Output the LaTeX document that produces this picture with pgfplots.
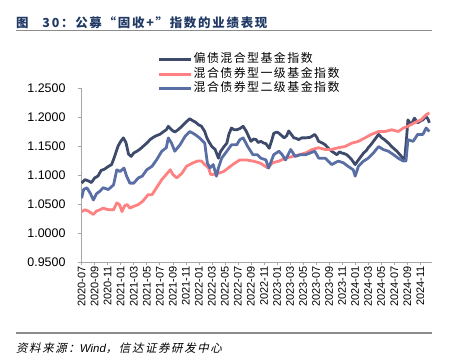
\documentclass[border=0pt]{standalone}
\usepackage{fontspec}
\usepackage{pgfplots}
\pgfplotsset{compat=1.18}
\setmainfont{Liberation Sans}
\newfontfamily\cjk{Noto Sans CJK SC}
\newfontfamily\cjktitle{Noto Sans CJK SC}[LetterSpace=14]
\newfontfamily\cjkleg{Noto Sans CJK SC}[LetterSpace=12]
\newfontfamily\cjkit{Noto Sans CJK SC}[FakeSlant=0.22, LetterSpace=14]
\definecolor{sdark}{HTML}{3D4A6B}
\definecolor{sred}{HTML}{FF8080}
\definecolor{sblue}{HTML}{5A6EA6}
\definecolor{ttl}{HTML}{1F3864}
\definecolor{rulegray}{HTML}{8C8C8C}
\begin{document}
\begin{tikzpicture}
\useasboundingbox (0bp,0bp) rectangle (452bp,-362bp);
\node[anchor=base west, inner sep=0pt, text=ttl] at (16bp,-27bp) {\cjktitle\bfseries\fontsize{12.5}{14}\selectfont 图\ \ \ 30：公募“固收+”指数的业绩表现};
\draw[rulegray, line width=1.6bp] (16bp,-30.5bp) -- (432bp,-30.5bp);
\draw[rulegray, line width=1.6bp] (16bp,-333bp) -- (432bp,-333bp);
\node[anchor=base west, inner sep=0pt] at (16bp,-352bp) {\fontsize{11.5}{13}\selectfont{\cjkit 资料来源：}{\itshape Wind}{\cjkit ，信达证券研发中心}};
\begin{axis}[
  at={(81bp,-262bp)}, anchor=south west,
  scale only axis, width=351bp, height=174bp,
  xmin=-0.1, xmax=53.8, ymin=0.95, ymax=1.25,
  axis lines=left, axis line style={draw=gray!70, -},
  tick style={draw=gray!70, line width=0.6bp},
  tick align=outside, major tick length=3bp,
  xtick={0,2,...,52},
  xticklabels={2020-07,2020-09,2020-11,2021-01,2021-03,2021-05,2021-07,2021-09,2021-11,2022-01,2022-03,2022-05,2022-07,2022-09,2022-11,2023-01,2023-03,2023-05,2023-07,2023-09,2023-11,2024-01,2024-03,2024-05,2024-07,2024-09,2024-11},
  xticklabel style={rotate=90, anchor=east, font=\fontsize{11}{11}\selectfont, inner sep=1bp},
  ytick={0.95,1.00,...,1.26},
  yticklabel style={xshift=-9bp, font=\fontsize{12.5}{13}\selectfont, /pgf/number format/.cd, fixed, fixed zerofill, precision=4, assume math mode=true},
  legend style={draw=none, fill=none, at={(0.219,1.205)}, anchor=north west, inner sep=0pt, row sep=0pt,
    font=\cjkleg\fontsize{12}{13}\selectfont, cells={anchor=west},
    nodes={inner sep=1bp, text height=9bp, text depth=3.5bp}},
  legend image code/.code={\draw[#1, line width=2.6pt] (0bp,0bp) -- (32bp,0bp);},
  every axis plot/.append style={line width=2.8pt, line join=round},
]
\addplot[sdark, no marks] coordinates {
(0,1.086)(0.5,1.092)(1.0,1.090)(1.5,1.087)(2.0,1.095)(2.5,1.098)(3.0,1.108)(3.5,1.110)(4.0,1.114)(4.6,1.118)
(5.0,1.130)(5.3,1.140)(5.6,1.150)(6.0,1.158)(6.4,1.164)(6.8,1.156)(7.2,1.136)(7.6,1.132)(8.0,1.138)(8.5,1.141)
(9.0,1.145)(9.7,1.152)(10.1,1.156)(10.5,1.161)(11.0,1.165)(11.5,1.168)(12.0,1.170)(12.6,1.175)(13.0,1.178)(13.3,1.184)
(13.8,1.178)(14.3,1.174)(14.8,1.178)(15.4,1.184)(16.1,1.192)(16.6,1.197)(17.0,1.194)(17.5,1.191)(17.9,1.187)(18.4,1.184)
(18.9,1.175)(19.2,1.165)(19.5,1.158)(20.0,1.149)(20.5,1.144)(21.0,1.129)(21.3,1.140)(21.8,1.148)(22.3,1.155)(22.6,1.170)
(23.0,1.181)(23.4,1.178)(23.8,1.178)(24.3,1.180)(24.8,1.184)(25.3,1.175)(25.7,1.165)(26.0,1.158)(26.4,1.162)(26.8,1.161)
(27.1,1.156)(27.5,1.158)(28.0,1.155)(28.3,1.154)(28.8,1.146)(29.2,1.160)(29.5,1.172)(30.0,1.174)(30.3,1.172)(30.7,1.168)
(31.1,1.164)(31.5,1.168)(31.8,1.176)(32.2,1.170)(32.6,1.164)(33.0,1.163)(33.3,1.161)(33.8,1.164)(34.4,1.164)(35.1,1.165)
(35.8,1.170)(36.1,1.165)(36.4,1.158)(37.0,1.155)(37.4,1.152)(37.9,1.146)(38.4,1.141)(38.8,1.138)(39.2,1.135)(39.6,1.140)
(39.9,1.138)(40.3,1.137)(40.7,1.135)(41.1,1.131)(41.5,1.126)(42.0,1.118)(42.5,1.126)(42.9,1.132)(43.3,1.138)(43.7,1.142)
(44.0,1.147)(44.4,1.152)(44.8,1.158)(45.2,1.164)(45.6,1.170)(46.1,1.164)(46.5,1.161)(46.8,1.158)(47.2,1.154)(47.6,1.149)
(48.0,1.145)(48.4,1.141)(48.8,1.136)(49.1,1.132)(49.6,1.126)(49.9,1.165)(50.1,1.195)(50.6,1.187)(51.1,1.198)(51.6,1.190)
(52.0,1.193)(52.4,1.195)(52.9,1.201)(53.2,1.196)(53.4,1.190)
};
\addlegendentry{偏债混合型基金指数}
\addplot[sred, no marks] coordinates {
(0,1.037)(0.5,1.040)(1.0,1.038)(1.8,1.032)(2.3,1.038)(2.8,1.040)(3.3,1.043)(3.8,1.041)(4.3,1.040)(4.9,1.040)
(5.4,1.052)(5.8,1.049)(6.2,1.037)(6.6,1.047)(7.0,1.049)(7.4,1.043)(8.0,1.046)(8.7,1.049)(9.4,1.055)(10.2,1.066)
(10.8,1.066)(11.5,1.078)(12.3,1.092)(13.0,1.101)(13.6,1.109)(14.0,1.101)(14.6,1.095)(15.4,1.103)(16.1,1.115)(17.1,1.121)
(17.8,1.124)(18.4,1.124)(18.9,1.118)(19.5,1.112)(19.8,1.101)(20.2,1.101)(21.0,1.103)(21.8,1.106)(22.5,1.112)(23.2,1.118)
(24.0,1.124)(24.3,1.126)(25.3,1.126)(26.3,1.124)(27.3,1.121)(27.8,1.118)(28.6,1.112)(29.3,1.121)(30.3,1.124)(31.3,1.129)
(32.4,1.132)(33.4,1.135)(34.4,1.138)(35.4,1.144)(36.4,1.147)(37.4,1.144)(38.4,1.144)(39.4,1.147)(40.4,1.149)(41.5,1.155)
(42.5,1.158)(43.5,1.164)(44.5,1.170)(45.6,1.175)(46.6,1.175)(47.6,1.178)(48.6,1.175)(49.4,1.181)(50.1,1.184)(51.1,1.190)
(52.1,1.195)(52.9,1.204)(53.4,1.207)
};
\addlegendentry{混合债券型一级基金指数}
\addplot[sblue, no marks] coordinates {
(0,1.060)(0.3,1.075)(0.8,1.078)(1.3,1.069)(1.8,1.057)(2.3,1.068)(2.8,1.072)(3.3,1.078)(4.1,1.075)(4.9,1.083)
(5.4,1.109)(5.9,1.106)(6.5,1.112)(6.9,1.098)(7.4,1.086)(8.0,1.086)(8.7,1.095)(9.3,1.098)(10.0,1.109)(10.8,1.115)
(11.5,1.126)(12.3,1.141)(13.0,1.147)(13.3,1.164)(13.8,1.155)(14.3,1.141)(15.1,1.152)(15.9,1.167)(16.6,1.175)(17.4,1.170)
(18.1,1.164)(18.9,1.155)(19.3,1.121)(19.7,1.112)(20.2,1.118)(20.7,1.098)(21.0,1.112)(21.5,1.129)(22.3,1.141)(23.0,1.152)
(23.8,1.152)(24.3,1.161)(24.8,1.164)(25.5,1.149)(26.3,1.135)(27.0,1.135)(27.5,1.129)(28.3,1.126)(28.7,1.112)(29.5,1.135)
(30.3,1.141)(30.8,1.135)(31.3,1.126)(32.1,1.144)(32.8,1.132)(33.6,1.135)(34.4,1.135)(35.1,1.138)(35.8,1.141)(36.4,1.129)
(37.4,1.129)(38.4,1.118)(39.4,1.124)(40.2,1.121)(40.9,1.115)(41.7,1.109)(42.0,1.098)(42.5,1.115)(43.3,1.124)(44.0,1.129)
(44.8,1.138)(45.6,1.149)(46.3,1.144)(47.1,1.141)(47.9,1.135)(48.6,1.129)(49.4,1.124)(49.8,1.124)(50.1,1.161)(50.9,1.158)
(51.6,1.170)(52.4,1.170)(52.9,1.181)(53.4,1.175)
};
\addlegendentry{混合债券型二级基金指数}
\end{axis}
\end{tikzpicture}
\end{document}
